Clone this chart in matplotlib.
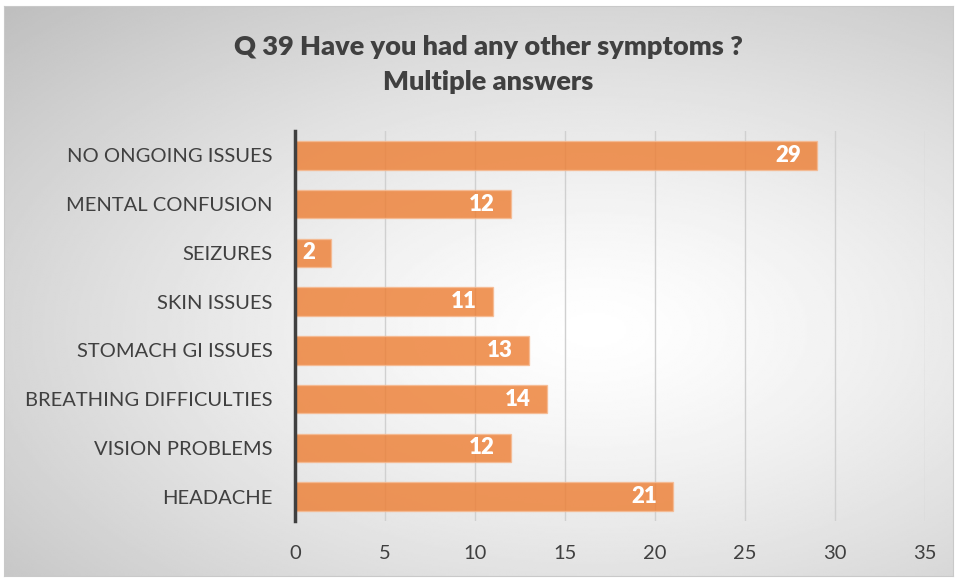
import numpy as np
import matplotlib.pyplot as plt

plt.rcParams['font.family'] = ['Lato', 'DejaVu Sans']

categories = ['HEADACHE', 'VISION PROBLEMS', 'BREATHING DIFFICULTIES', 'STOMACH GI ISSUES',
              'SKIN ISSUES', 'SEIZURES', 'MENTAL CONFUSION', 'NO ONGOING ISSUES']
counts = [21, 12, 14, 13, 11, 2, 12, 29]
ticks = [0, 5, 10, 15, 20, 25, 30, 35]

fig = plt.figure(figsize=(9.59, 5.79), dpi=100)

# radial grey background behind the chart
bg = fig.add_axes([0.004, 0.005, 0.99, 0.984], zorder=-10)
yy, xx = np.mgrid[0:300, 0:500]
r = np.sqrt(((xx - 310) / 420.0) ** 2 + ((yy - 170) / 230.0) ** 2)
shade = np.clip(1.0 - 0.24 * r ** 1.3, 0.74, 1.0)
bg.imshow(shade, cmap='gray', vmin=0, vmax=1, aspect='auto', interpolation='bilinear')
bg.set_xticks([])
bg.set_yticks([])
for s in bg.spines.values():
    s.set_color('#c9c9c9')
    s.set_linewidth(0.8)

ax = fig.add_axes([295 / 959, 1 - 521 / 579, 630 / 959, 390 / 579])
ax.patch.set_alpha(0)

y = np.arange(len(categories))
bars = ax.barh(y, counts, height=0.58, color='#ed7d31', alpha=0.8,
               edgecolor='#f6b990', linewidth=1.0, zorder=3)
for b, v in zip(bars, counts):
    ax.text(v - 0.9, b.get_y() + b.get_height() / 2, str(v), ha='right', va='center',
            color='white', fontsize=16, fontweight='heavy', zorder=4)

ax.set_xlim(0, 35)
ax.set_ylim(-0.5, len(categories) - 0.5)
ax.set_xticks(ticks)
ax.set_yticks(y)
ax.set_yticklabels(categories)
ax.grid(axis='x', color='#d0d0d0', linewidth=1.0, zorder=0)
ax.tick_params(axis='both', length=0, labelsize=14.5, colors='#404040')
ax.tick_params(axis='y', pad=16)
ax.tick_params(axis='x', pad=17)
for name in ['top', 'right', 'bottom']:
    ax.spines[name].set_visible(False)
ax.spines['left'].set_color('#404040')
ax.spines['left'].set_linewidth(2.5)
ax.spines['left'].set_zorder(5)

fig.text(0.509, 1 - 47 / 579, 'Q 39 Have you had any other symptoms ?', ha='center', va='center',
         fontsize=19.5, fontweight='heavy', color='#404040')
fig.text(0.509, 1 - 82 / 579, 'Multiple answers', ha='center', va='center',
         fontsize=19.5, fontweight='heavy', color='#404040')

fig.savefig('out.png', dpi=100)
